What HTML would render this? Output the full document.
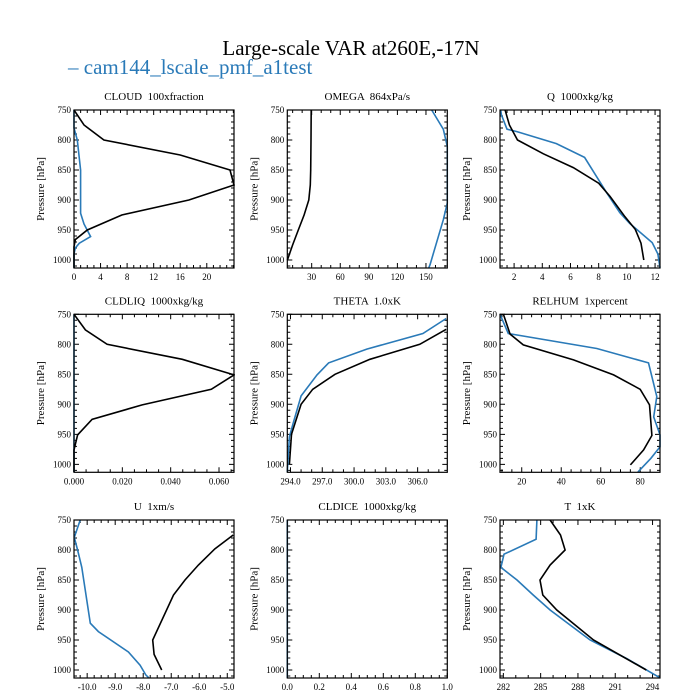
<!DOCTYPE html>
<html><head><meta charset="utf-8">
<style>
body{margin:0;background:#fff;}
svg{display:block;font-family:"Liberation Serif",serif;}
text{white-space:pre;}
</style></head>
<body>
<svg id="c" width="700" height="700" viewBox="0 0 700 700">
<text x="351" y="55" text-anchor="middle" font-size="21" fill="#000">Large-scale VAR at260E,-17N</text>
<text x="68" y="74" font-size="21" fill="#2a7ab8">– cam144_lscale_pmf_a1test</text>
</svg>
<script>
const titles = ["CLOUD  100xfraction","OMEGA  864xPa/s","Q  1000xkg/kg","CLDLIQ  1000xkg/kg","THETA  1.0xK","RELHUM  1xpercent","U  1xm/s","CLDICE  1000xkg/kg","T  1xK"];
const xDomains = [[0,24.1],[4.4,172.4],[1.0,12.35],[0,0.0662],[293.7,308.8],[9,90],[-10.47,-4.76],[0,1],[281.73,294.6]];
const xTicks = [[0,4,8,12,16,20],[30,60,90,120,150],[2,4,6,8,10,12],[0,0.02,0.04,0.06],[294,297,300,303,306],[20,40,60,80],[-10,-9,-8,-7,-6,-5],[0,0.2,0.4,0.6,0.8,1.0],[282,285,288,291,294]];
const xTickLabels = [["0","4","8","12","16","20"],["30","60","90","120","150"],["2","4","6","8","10","12"],["0.000","0.020","0.040","0.060"],["294.0","297.0","300.0","303.0","306.0"],["20","40","60","80"],["-10.0","-9.0","-8.0","-7.0","-6.0","-5.0"],["0.0","0.2","0.4","0.6","0.8","1.0"],["282","285","288","291","294"]];
const xMinor = [1,10,0.5,0.005,1,5,0.25,0.05,1];
const yTicks = [750,800,850,900,950,1000];

const cloudP_ctrl = [750,775,800,825,850,875,900,925,950,966,978,1013];
const cloudV_ctrl = [0,1.5,4.5,16,23.5,24.1,17.3,7.2,2,0.2,0,0];
const cloudP_test = [750,780,800,850,922,940,961,972,980,990,1013];
const cloudV_test = [0,0,0.5,1,1,1.5,2.5,0.8,0.2,0,0];

const omegaP_ctrl = [750,800,850,875,900,925,950,975,1000];
const omegaV_ctrl = [29.5,29.3,29,28.5,27,22,16,10,4.5];
const omegaP_test = [750,782,811,905,933,1008,1013];
const omegaV_test = [156,168.2,172.4,172.4,168.2,154.2,153];

const qP_ctrl = [750,775,800,823,846,872,894,928,949,972,1000];
const qV_ctrl = [1.36,1.67,2.24,4.08,6.2,8,8.8,9.87,10.6,11,11.2];
const qP_test = [750,758,782,786,806,829,889,921,939,971,990,1013];
const qV_test = [1.05,1.1,1.5,2.2,5,7,8.6,9.5,10.2,11.8,12.2,12.35];

const liqP_ctrl = [750,776,800,825,851,875,901,925,951,976,1013];
const liqV_ctrl = [0,0.0047,0.0137,0.0448,0.0662,0.0568,0.0282,0.0075,0.0015,0,0];
const liqP_test = [750,1013];
const liqV_test = [0,0];

const thP_ctrl = [775,800,825,850,875,900,950,1000];
const thV_ctrl = [308.7,306.2,301.5,298.2,296.1,295,294.1,293.9];
const thP_test = [757,782,808,831,851,886,932,954,1013];
const thV_test = [308.7,306.5,301.2,297.6,296.5,295.0,294.25,293.9,293.7];

const rhP_ctrl = [750,783,801,826,851,875,901,952,976,1001];
const rhV_ctrl = [10.7,14.1,20.8,46.2,66.5,80,84.7,85.9,81.7,75];
const rhP_test = [750,782,807,831,887,921,951,971,990,1013];
const rhV_test = [9,13.2,58,84.2,88.4,86.8,90,90,85.4,78.8];

const uP_ctrl = [775,798,825,850,875,950,974,1000];
const uV_ctrl = [-4.79,-5.44,-6.03,-6.51,-6.92,-7.66,-7.61,-7.34];
const uP_test = [750,779,800,829,922,936,970,992,1008,1013];
const uV_test = [-10.25,-10.46,-10.34,-10.19,-9.89,-9.6,-8.53,-8.11,-7.91,-7.8];

const iceP_test = [750,1013];
const iceV_test = [0,0];

const tP_ctrl = [750,775,800,825,850,875,900,950,1000];
const tV_ctrl = [285.76,286.6,286.97,285.76,284.95,285.17,286.3,289.25,293.5];
const tP_test = [750,782,807,829,850,875,900,950,981,1013];
const tV_test = [284.7,284.63,282.05,281.8,283.1,284.4,285.76,288.98,291.93,294.6];

const ctrlP = [cloudP_ctrl,omegaP_ctrl,qP_ctrl,liqP_ctrl,thP_ctrl,rhP_ctrl,uP_ctrl,null,tP_ctrl];
const ctrlV = [cloudV_ctrl,omegaV_ctrl,qV_ctrl,liqV_ctrl,thV_ctrl,rhV_ctrl,uV_ctrl,null,tV_ctrl];
const testP = [cloudP_test,omegaP_test,qP_test,liqP_test,thP_test,rhP_test,uP_test,iceP_test,tP_test];
const testV = [cloudV_test,omegaV_test,qV_test,liqV_test,thV_test,rhV_test,uV_test,iceV_test,tV_test];

const svg = document.getElementById('c');
const NS = 'http://www.w3.org/2000/svg';
const colL = [74,287.3,500], rowT = [110,314.3,520], W = 160, H = 158;
const pMin = 750, pMax = 1013.3;
function mk(tag, attrs){const e=document.createElementNS(NS,tag);for(const k in attrs)e.setAttribute(k,attrs[k]);return e;}

for(let i=0;i<9;i++){
  const L = colL[i%3], T = rowT[Math.floor(i/3)];
  const d = xDomains[i];
  const xs = v => L + (v-d[0])/(d[1]-d[0])*W;
  const ys = p => T + (p-pMin)/(pMax-pMin)*H;
  const g = mk('g',{});
  
  
  svg.appendChild(g);
  const t = mk('text',{x:L+W/2,y:T-10,'text-anchor':'middle','font-size':'11'});
  t.textContent = titles[i];
  
  
  g.appendChild(t);
  const yl = mk('text',{x:0,y:0,'text-anchor':'middle','font-size':'11',transform:`translate(${L-30},${T+H/2}) rotate(-90)`});
  yl.textContent = 'Pressure [hPa]';
  
  
  g.appendChild(yl);
  let tk = '';
  for(let p=750;p<=1010;p+=10){
    const y=ys(p), maj=(p%50===0), len=maj?5:3;
    tk += `M${L},${y}h${len}M${L+W},${y}h${-len}`;
  }
  const m = xMinor[i];
  for(let k=Math.ceil(d[0]/m-1e-6);k*m<=d[1]+1e-9;k++){
    const v=k*m, x=xs(v);
    const maj = xTicks[i].some(a=>Math.abs(a-v)<m/10);
    const len = maj?5:3;
    tk += `M${x},${T+H}v${-len}M${x},${T}v${len}`;
  }
  const tp = mk('path',{d:tk,stroke:'#000','stroke-width':'1',fill:'none'});
  
  
  g.appendChild(tp);
  yTicks.forEach(p=>{
    const lab = mk('text',{x:L-3,y:ys(p)+3,'text-anchor':'end','font-size':'9'});
    lab.textContent = p;
    
    
    g.appendChild(lab);
  });
  xTicks[i].forEach((v,j)=>{
    const lab = mk('text',{x:xs(v),y:T+H+12,'text-anchor':'middle','font-size':'9'});
    lab.textContent = xTickLabels[i][j];
    
    
    g.appendChild(lab);
  });
  const clip = mk('clipPath',{id:'cp'+i});
  clip.appendChild(mk('rect',{x:L-1,y:T,width:W+2,height:H}));
  g.appendChild(clip);
  if(testP[i]){
    const pts = testP[i].map((p,k)=>xs(testV[i][k]).toFixed(1)+','+ys(p).toFixed(1)).join(' ');
    const pl = mk('polyline',{points:pts,fill:'none',stroke:'#2a7ab8','stroke-width':'1.6','clip-path':`url(#cp${i})`});
    
    
    g.appendChild(pl);
  }
  if(ctrlP[i]){
    const pts = ctrlP[i].map((p,k)=>xs(ctrlV[i][k]).toFixed(1)+','+ys(p).toFixed(1)).join(' ');
    const pl = mk('polyline',{points:pts,fill:'none',stroke:'#000','stroke-width':'1.6','clip-path':`url(#cp${i})`});
    
    
    g.appendChild(pl);
  }
  const fr = mk('rect',{x:L,y:T,width:W,height:H,fill:'none',stroke:'#000','stroke-width':'1.2'});
  
  
  g.appendChild(fr);
}
</script>
</body></html>
